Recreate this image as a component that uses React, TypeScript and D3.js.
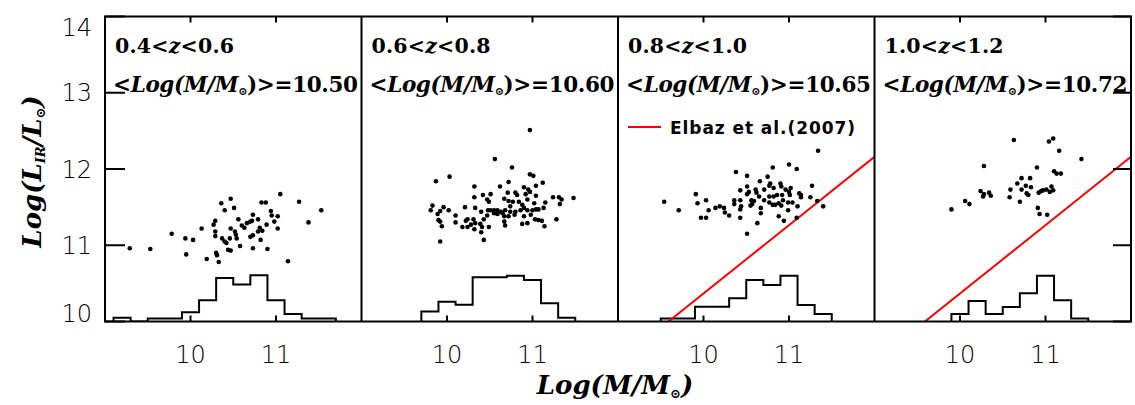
import React from 'react';
import * as d3 from 'd3';

const W = 1135;
const H = 405;

// ---- data ----
const zLow = ['0.4', '0.6', '0.8', '1.0'];
const zHigh = ['0.6', '0.8', '1.0', '1.2'];
const meanMass = ['10.50', '10.60', '10.65', '10.72'];
const yTicks = [10, 11, 12, 13, 14];
const xTicks = [10, 11];

const mass1 = [9.29,9.53,9.78,9.94,10.03,9.95,10.13,10.19,10.29,10.27,10.29,10.29,10.36,10.40,10.47,10.51,10.30,10.31,10.33,10.37,10.40,10.42,10.46,10.47,10.44,10.47,10.52,10.53,10.54,10.56,10.58,10.60,10.63,10.66,10.70,10.72,10.73,10.70,10.73,10.73,10.79,10.79,10.81,10.82,10.84,10.83,10.88,10.89,10.90,10.94,10.95,10.98,11.02,11.02,11.05,11.14,11.27,11.38,11.53];
const lir1 = [10.96,10.95,11.15,11.09,11.07,10.88,11.22,10.82,11.32,11.27,11.18,11.12,11.55,11.46,11.61,11.49,10.90,10.87,10.78,11.09,11.05,11.03,11.09,11.22,10.94,10.93,11.18,11.14,11.09,11.34,10.99,11.26,11.23,11.29,11.31,11.32,11.40,11.11,11.13,10.96,11.34,11.18,11.23,11.07,11.19,11.56,11.56,11.27,10.95,11.45,11.39,11.31,11.38,11.22,11.67,10.79,11.57,11.30,11.46];

const mass2 = [10.97,10.56,10.76,10.97,11.01,9.87,10.03,10.72,11.12,10.32,10.62,10.90,10.95,10.97,11.04,10.42,10.51,10.32,10.47,10.49,10.67,10.71,10.80,10.82,10.92,11.04,10.72,10.77,10.84,10.94,11.15,11.24,11.31,11.34,11.48,11.32,9.83,9.81,9.89,9.92,9.96,10.02,10.21,10.33,10.40,10.48,10.51,10.55,10.59,10.63,10.68,10.74,10.80,10.86,10.90,10.94,11.00,11.04,11.07,11.13,10.10,10.24,10.31,10.43,10.47,10.55,10.67,10.72,10.79,10.90,10.98,11.03,11.07,11.11,11.28,9.90,9.92,10.10,10.22,10.28,10.33,10.39,10.67,10.68,10.88,10.94,11.14,9.94,10.18,10.24,10.32,10.41,10.49,10.40,10.43,9.92,10.59,10.65,10.74,11.02,10.88];
const lir2 = [12.51,12.13,12.02,11.93,11.91,11.84,11.90,11.83,11.82,11.77,11.77,11.76,11.73,11.70,11.78,11.66,11.67,11.63,11.60,11.57,11.61,11.69,11.69,11.66,11.67,11.65,11.58,11.57,11.57,11.60,11.56,11.63,11.63,11.60,11.62,11.54,11.52,11.46,11.41,11.45,11.50,11.46,11.50,11.49,11.44,11.46,11.46,11.46,11.46,11.44,11.46,11.44,11.44,11.46,11.49,11.46,11.46,11.47,11.47,11.49,11.39,11.34,11.34,11.34,11.39,11.42,11.38,11.38,11.40,11.38,11.40,11.34,11.33,11.32,11.34,11.33,11.31,11.30,11.32,11.27,11.29,11.28,11.31,11.26,11.28,11.29,11.25,11.25,11.24,11.24,11.21,11.24,11.24,11.17,11.07,11.05,11.41,11.42,11.51,11.55,11.53];

const mass3 = [9.54,9.71,9.91,9.93,10.03,9.97,10.03,10.06,10.14,10.19,10.24,10.25,10.30,10.38,10.36,10.36,10.43,10.43,10.43,10.43,10.44,10.51,10.51,10.53,10.51,10.56,10.57,10.55,10.61,10.62,10.66,10.65,10.67,10.67,10.63,10.51,10.71,10.75,10.78,10.77,10.81,10.82,10.82,10.77,10.81,10.84,10.88,10.88,10.90,10.91,10.92,10.93,10.94,10.91,10.96,11.00,11.00,11.01,11.02,10.99,10.99,11.04,11.09,11.10,11.09,11.12,11.14,11.14,11.25,11.27,11.33,11.40,11.34,10.77,10.71,10.59,10.86];
const lir3 = [11.57,11.46,11.67,11.55,11.59,11.36,11.36,11.46,11.49,11.51,11.49,11.43,11.39,11.96,11.59,11.54,11.59,11.72,11.47,11.36,11.51,11.91,11.77,11.70,11.67,11.59,11.54,11.52,11.73,11.69,11.84,11.64,11.49,11.42,11.29,11.15,11.73,11.90,11.81,11.78,12.02,11.75,11.64,11.56,11.53,11.53,11.55,11.38,11.81,11.77,11.66,11.59,11.32,11.52,11.73,12.06,11.70,11.66,11.75,11.56,11.46,11.56,12.00,11.51,11.36,11.68,11.66,11.63,11.63,11.78,11.58,11.51,12.24,11.64,11.59,11.58,11.66];

const mass4 = [9.90,10.06,10.11,10.28,10.24,10.28,10.27,10.34,10.36,10.59,10.58,10.63,10.67,10.70,10.72,10.72,10.77,10.78,10.80,10.82,10.83,10.90,10.91,10.93,10.92,10.95,10.97,11.01,11.05,11.07,11.09,11.04,11.09,11.10,11.13,11.18,11.16,11.42,11.02];
const lir4 = [11.47,11.58,11.54,12.04,11.71,11.67,11.64,11.69,11.65,11.73,11.63,12.38,11.81,11.57,11.88,11.73,11.78,11.68,11.66,11.88,11.76,12.02,11.49,11.41,11.69,11.71,11.72,11.73,11.70,11.77,11.72,12.36,12.40,11.97,11.94,11.94,12.24,12.13,11.40];

// histograms: first bin edge, bin width 0.2, heights in dex above the axis floor
const histStart = [9.1, 9.7, 9.5, 9.9];
const histBin = 0.2;
const hist1 = [0.05,0,0.04,0.04,0.12,0.28,0.57,0.485,0.605,0.28,0.10,0.04,0.04];
const hist2 = [0.13,0.26,0.22,0.58,0.58,0.60,0.545,0.24,0.05];
const hist3 = [0.04,0.04,0.195,0.195,0.305,0.545,0.48,0.60,0.215,0.10];
const hist4 = [0.10,0.27,0.10,0.19,0.37,0.60,0.28,0.04];

// Elbaz et al. (2007) relation, endpoints
const elbazMass = [9.59, 12.0];
const elbazLIR = [10.0, 12.16];
const showElbaz = [false, false, true, true];

const masses = [mass1, mass2, mass3, mass4];
const lirs = [lir1, lir2, lir3, lir4];
const hists = [hist1, hist2, hist3, hist4];

const plotLeft = 105;
const plotRight = 1131;
const plotTop = 16.5;
const plotBottom = 321.5;

const SERIF = '"DejaVu Serif", serif';
const SANS = '"DejaVu Sans", sans-serif';

export default function App() {
  const nP = 4;
  const pw = (plotRight - plotLeft) / nP;
  const y = d3.scaleLinear().domain([10, 14]).range([plotBottom, plotTop]);
  const xs = d3.range(nP).map((i) =>
    d3.scaleLinear().domain([9, 12]).range([plotLeft + i * pw, plotLeft + (i + 1) * pw])
  );
  const line = d3.line<[number, number]>();

  return (
    <svg width={W} height={H} style={{ position: 'absolute', left: 0, top: 0, background: '#fff' }}>
      <defs>
        {xs.map((x, i) => (
          <clipPath id={`clip${i}`} key={i}>
            <rect x={x(9)} y={plotTop} width={pw} height={plotBottom - plotTop} />
          </clipPath>
        ))}
      </defs>
      <rect width={W} height={H} fill="#fff" />
      {xs.map((x, i) => {
        const L = x(9);
        const h = hists[i];
        const pts: [number, number][] = [[x(histStart[i]), y(10)]];
        h.forEach((v, k) => {
          const x0 = histStart[i] + k * histBin;
          pts.push([x(x0), y(10 + v)]);
          pts.push([x(x0 + histBin), y(10 + v)]);
        });
        pts.push([x(histStart[i] + h.length * histBin), y(10)]);
        return (
          <g key={i}>
            <g clipPath={`url(#clip${i})`}>
              <path d={line(pts) || ''} fill="none" stroke="#000" strokeWidth={2} strokeLinejoin="miter" />
              {showElbaz[i] && (
                <path
                  d={line([[x(elbazMass[0]), y(elbazLIR[0])], [x(elbazMass[1]), y(elbazLIR[1])]]) || ''}
                  stroke="#ff0000"
                  strokeWidth={2}
                  fill="none"
                />
              )}
              {masses[i].map((m, k) => (
                <circle key={k} cx={x(m)} cy={y(lirs[i][k])} r={2.3} fill="#000" />
              ))}
            </g>
            {xTicks.map((t) => (
              <g key={t}>
                <line x1={x(t)} x2={x(t)} y1={plotTop} y2={plotTop + 6} stroke="#000" strokeWidth={2} />
                <line x1={x(t)} x2={x(t)} y1={plotBottom} y2={plotBottom - 6} stroke="#000" strokeWidth={2} />
                <text x={x(t)} y={363} textAnchor="middle" fontFamily={SANS} fontWeight={200} fontSize={24} fill="#000">
                  {t}
                </text>
              </g>
            ))}
            <text x={L + 10} y={53} fontFamily={SERIF} fontWeight="bold" fontSize={20.5} textLength={119} lengthAdjust="spacing" fill="#000">
              {zLow[i]}&lt;<tspan fontStyle="italic">z</tspan>&lt;{zHigh[i]}
            </text>
            <text x={L + 8} y={92} fontFamily={SERIF} fontWeight="bold" fontSize={21.5} textLength={245} lengthAdjust="spacing" fill="#000">
              &lt;<tspan fontStyle="italic">Log(M/M</tspan>
              <tspan fontSize={11} dy={3}>⊙</tspan>
              <tspan dy={-3}>)&gt;=</tspan>
              {meanMass[i]}
            </text>
            {i === 2 && (
              <g>
                <line x1={L + 10} x2={L + 43} y1={127} y2={127} stroke="#ff0000" strokeWidth={2} />
                <text x={L + 52} y={134} fontFamily={SANS} fontWeight="bold" fontSize={17} textLength={185} lengthAdjust="spacing" fill="#000">
                  Elbaz et al.(2007)
                </text>
              </g>
            )}
          </g>
        );
      })}
      {yTicks.map((t) => {
        const cy = Math.min(Math.max(y(t), plotTop + 10.5), plotBottom - 8);
        return (
          <g key={t}>
            <line x1={plotLeft} x2={plotLeft + 20} y1={y(t)} y2={y(t)} stroke="#000" strokeWidth={2} />
            <line x1={plotRight} x2={plotRight - 18} y1={y(t)} y2={y(t)} stroke="#000" strokeWidth={2} />
            <text x={92} y={cy + 8.5} textAnchor="end" fontFamily={SANS} fontWeight={200} fontSize={24} fill="#000">
              {t}
            </text>
          </g>
        );
      })}
      <rect x={plotLeft} y={plotTop} width={plotRight - plotLeft} height={plotBottom - plotTop} fill="none" stroke="#000" strokeWidth={2} />
      {d3.range(1, nP).map((i) => (
        <line key={i} x1={xs[i](9)} x2={xs[i](9)} y1={plotTop} y2={plotBottom} stroke="#000" strokeWidth={2} />
      ))}
      <text x={615} y={394} textAnchor="middle" fontFamily={SERIF} fontWeight="bold" fontStyle="italic" fontSize={26} fill="#000">
        Log(M/M<tspan fontSize={13} dy={4}>⊙</tspan>
        <tspan dy={-4}>)</tspan>
      </text>
      <text transform="translate(41,171.5) rotate(-90)" textAnchor="middle" fontFamily={SERIF} fontWeight="bold" fontStyle="italic" fontSize={26} fill="#000">
        Log(L<tspan fontSize={13} dy={4}>IR</tspan>
        <tspan dy={-4}>/L</tspan>
        <tspan fontSize={13} dy={4}>⊙</tspan>
        <tspan dy={-4}>)</tspan>
      </text>
    </svg>
  );
}
